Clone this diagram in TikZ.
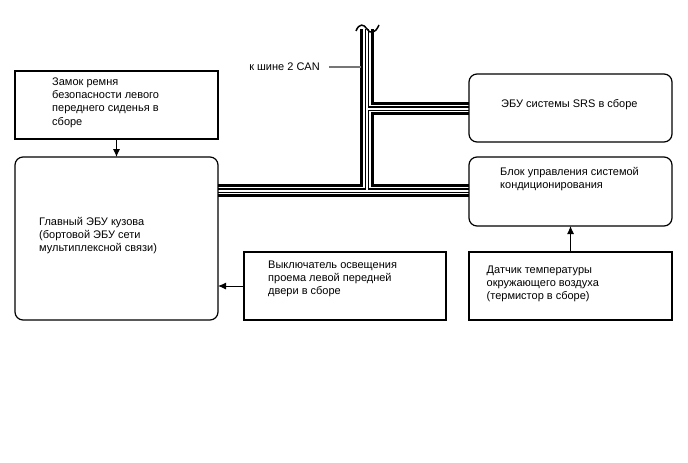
\documentclass[tikz,border=0pt]{standalone}
\usepackage{fontspec}
\setmainfont{Liberation Sans}
\usetikzlibrary{
  arrows.meta,
  positioning,
  backgrounds
}
\definecolor{LeadGray}{RGB}{118,118,118}
\tikzset{
  unitbox/.style={draw=black,line width=1.2pt,inner sep=0pt,outer sep=0pt,minimum width=203pt,minimum height=68pt},
  ecubox/.style={unitbox,rounded corners=8pt},
  boxtext/.style={anchor=north west,inner sep=0pt,align=left,font=\fontsize{11}{13.3}\selectfont},
  signal/.style={-{Latex[length=8pt,width=7pt]},line width=0.9pt,draw=black},
  busouter/.style={line width=13.4pt,draw=black},
  busgap/.style={line width=7.6pt,draw=white},
  buscore/.style={line width=4.2pt,draw=black},
  busslit/.style={line width=2pt,draw=white},
  canlead/.style={line width=1.4pt,draw=LeadGray}
}

\begin{document}
\begin{tikzpicture}[x=1pt,y=-1pt]
\useasboundingbox (0,0) rectangle (688,463);

\node[unitbox, anchor=north west] (belt) at (15,71) {};
\node[ecubox, minimum height=163pt, below=18pt of belt] (bodyecu) {};
\node[unitbox, minimum width=202pt, anchor=south west] (doorsw) at ([xshift=26pt]bodyecu.south east) {};

\node[ecubox, anchor=north west] (srs) at (469,74) {};
\node[ecubox, minimum height=69pt, below=15pt of srs] (aircon) {};
\node[unitbox, below=26pt of aircon] (ambsensor) {};

\node[boxtext] (belttext) at ([xshift=37pt,yshift=-6.5pt]belt.north west) {Замок ремня\\безопасности левого\\переднего сиденья в\\сборе};
\node[boxtext] (bodytext) at ([xshift=24pt,yshift=-60pt]bodyecu.north west) {Главный ЭБУ кузова\\(бортовой ЭБУ сети\\мультиплексной связи)};
\node[boxtext] (doorswtext) at ([xshift=24pt,yshift=-8.5pt]doorsw.north west) {Выключатель освещения\\проема левой передней\\двери в сборе};
\node[boxtext] (srstext) at ([xshift=32pt,yshift=-25.5pt]srs.north west) {ЭБУ системы SRS в сборе};
\node[boxtext] (aircontext) at ([xshift=31pt,yshift=-10pt]aircon.north west) {Блок управления системой\\кондиционирования};
\node[boxtext] (sensortext) at ([xshift=17.5pt,yshift=-13.5pt]ambsensor.north west) {Датчик температуры\\окружающего воздуха\\(термистор в сборе)};

\coordinate (cantop) at (367,29);
\coordinate (srstee) at (367,108.5);
\coordinate (maintee) at (367,190.5);
\coordinate (canjoin) at (360.5,67);

\begin{scope}[on background layer]
\foreach \layer in {busouter,busgap,buscore,busslit}
  \draw[\layer] (cantop) -- (maintee)
    (srstee) -- (srs.west |- srstee)
    (bodyecu.east |- maintee) -- (aircon.west |- maintee);
\end{scope}
\draw[line width=1.5pt] (356,31) .. controls (359,23) and (364,24) .. (367,29) .. controls (370,34) and (375,34) .. (379,25);

\node[inner sep=0pt, font=\fontsize{11}{13.3}\selectfont] (canlabel) at (284.5,67) {к шине 2 CAN};
\draw[canlead] ([xshift=9pt]canlabel.east) -- (canjoin);

\draw[signal] (belt) -- (bodyecu);
\draw[signal] (doorsw.west) -- (doorsw.west -| bodyecu.east);
\draw[signal] (ambsensor) -- (aircon);
\end{tikzpicture}
\end{document}
